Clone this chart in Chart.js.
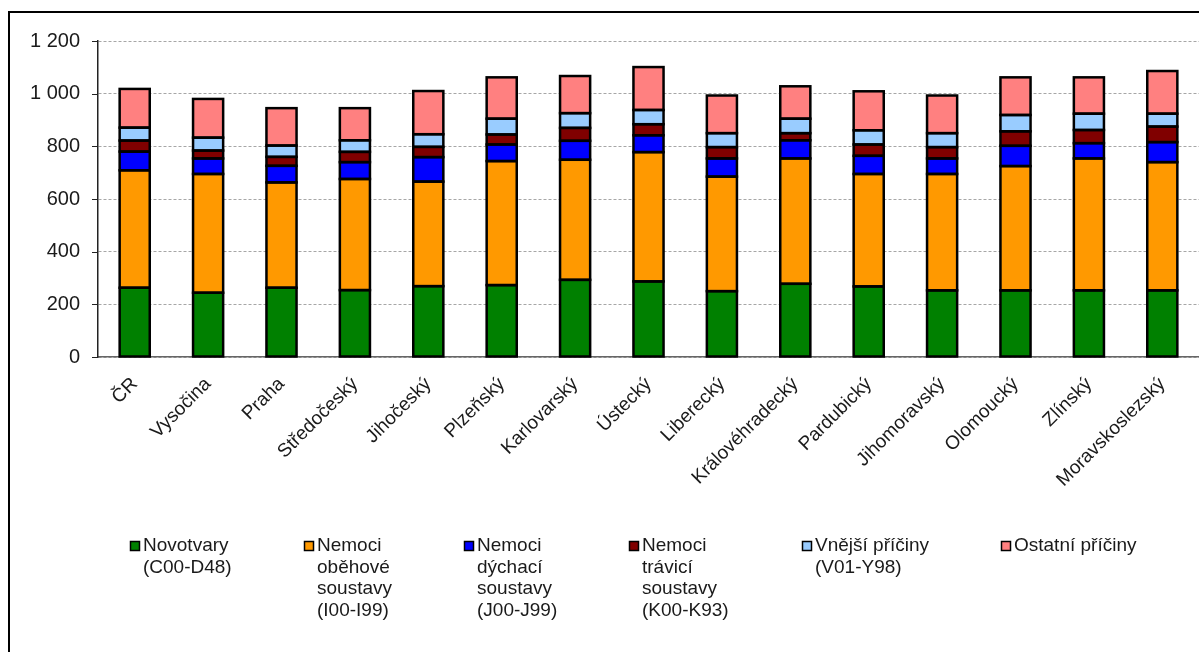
<!DOCTYPE html>
<html>
<head>
<meta charset="utf-8">
<script src="https://cdn.jsdelivr.net/npm/chart.js@4/dist/chart.umd.min.js"></script>
<style>
  html, body { margin: 0; padding: 0; background: #fff; }
  #wrap { position: relative; width: 1199px; height: 652px; }
</style>
</head>
<body>
<div id="wrap"><canvas id="c" width="1199" height="652"></canvas></div>
<script>
const categories = ['ČR', 'Vysočina', 'Praha', 'Středočeský', 'Jihočeský', 'Plzeňský', 'Karlovarský', 'Ústecký', 'Liberecký', 'Královéhradecký', 'Pardubický', 'Jihomoravský', 'Olomoucký', 'Zlínský', 'Moravskoslezský'];

const novotvary   = [263, 244, 263, 254, 269, 273, 293, 287, 250, 278, 268, 253, 253, 253, 253];
const obehove     = [446, 451, 400, 422, 397, 471, 456, 491, 435, 476, 427, 442, 472, 501, 487];
const dychaci     = [71, 59, 63, 64, 93, 63, 72, 64, 69, 69, 69, 59, 77, 58, 76];
const travici     = [42, 30, 34, 39, 39, 38, 49, 42, 43, 27, 43, 43, 55, 50, 59];
const vnejsi      = [49, 49, 43, 44, 48, 60, 56, 54, 53, 55, 54, 53, 62, 62, 49];
const ostatni     = [147, 147, 142, 122, 164, 157, 141, 163, 143, 123, 148, 143, 143, 138, 162];

const seriesNames = [
  ['Novotvary', '(C00-D48)'],
  ['Nemoci', 'oběhové', 'soustavy', '(I00-I99)'],
  ['Nemoci', 'dýchací', 'soustavy', '(J00-J99)'],
  ['Nemoci', 'trávicí', 'soustavy', '(K00-K93)'],
  ['Vnější příčiny', '(V01-Y98)'],
  ['Ostatní příčiny']
];
const seriesColors = ['#008000', '#FF9900', '#0000FF', '#800000', '#99CCFF', '#FF8080'];
const yTickLabels = ['0', '200', '400', '600', '800', '1 000', '1 200'];

const seriesValues = [novotvary, obehove, dychaci, travici, vnejsi, ostatni];

const FONT = "'Liberation Sans', Arial, sans-serif";
const TEXT = '#1a1a1a';

const barOutlines = {
  id: 'barOutlines',
  afterDatasetsDraw(chart) {
    const ctx = chart.ctx;
    ctx.save();
    ctx.strokeStyle = '#000';
    ctx.lineWidth = 2.5;
    ctx.lineJoin = 'miter';
    chart.data.datasets.forEach((ds, i) => {
      const meta = chart.getDatasetMeta(i);
      meta.data.forEach(el => {
        const p = el.getProps(['x', 'y', 'base', 'width'], true);
        const left = p.x - p.width / 2;
        const top = Math.min(p.y, p.base);
        const h = Math.abs(p.base - p.y);
        ctx.strokeRect(left, top, p.width, h);
      });
    });
    ctx.restore();
  }
};

const frameAndLegend = {
  id: 'frameAndLegend',
  afterDraw(chart) {
    const ctx = chart.ctx;
    ctx.save();
    // outer frame (top + left)
    ctx.strokeStyle = '#000';
    ctx.lineWidth = 2;
    ctx.beginPath();
    ctx.moveTo(9, 700);
    ctx.lineTo(9, 12);
    ctx.lineTo(1250, 12);
    ctx.stroke();

    // y tick marks
    const ys = chart.scales.y;
    ctx.strokeStyle = '#222';
    ctx.lineWidth = 1;
    ys.ticks.forEach(t => {
      const py = Math.round(ys.getPixelForValue(t.value)) + 0.5;
      ctx.beginPath();
      ctx.moveTo(ys.right - 6, py);
      ctx.lineTo(ys.right, py);
      ctx.stroke();
    });

    // legend
    const boxX = [130, 304, 464, 629, 802, 1001];
    const firstY = 546;
    const lineH = 21.5;
    ctx.font = '19px ' + FONT;
    ctx.textBaseline = 'middle';
    ctx.textAlign = 'left';
    chart.data.datasets.forEach((ds, i) => {
      const bx = boxX[i];
      ctx.fillStyle = ds.backgroundColor;
      ctx.fillRect(bx, firstY - 5, 10, 10);
      ctx.strokeStyle = '#000';
      ctx.lineWidth = 1.5;
      ctx.strokeRect(bx + 0.5, firstY - 4.5, 9, 9);
      ctx.fillStyle = TEXT;
      seriesNames[i].forEach((line, j) => {
        ctx.fillText(line, bx + 13, firstY + j * lineH);
      });
    });
    ctx.restore();
  }
};

new Chart(document.getElementById('c'), {
  type: 'bar',
  data: {
    labels: categories,
    datasets: seriesValues.map((vals, i) => ({
      label: seriesNames[i].join(' '),
      data: vals,
      backgroundColor: seriesColors[i],
      borderWidth: 0,
      inflateAmount: 0,
      barPercentage: 0.41,
      categoryPercentage: 1.0
    }))
  },
  options: {
    responsive: false,
    animation: false,
    devicePixelRatio: 1,
    layout: { padding: { left: 0, top: 41, right: 0, bottom: 0 } },
    plugins: {
      legend: { display: false },
      tooltip: { enabled: false }
    },
    scales: {
      x: {
        stacked: true,
        grid: { display: false, drawTicks: false },
        border: { display: true, color: '#666', width: 1.5 },
        ticks: {
          autoSkip: false,
          minRotation: 45,
          maxRotation: 45,
          padding: 16,
          color: TEXT,
          font: { family: FONT, size: 19 }
        },
        afterFit(s) { s.height = 295; }
      },
      y: {
        stacked: true,
        min: 0,
        max: 1200,
        ticks: {
          stepSize: 200,
          padding: 18,
          color: TEXT,
          font: { family: FONT, size: 20 },
          callback: (v, idx) => yTickLabels[idx]
        },
        grid: { color: '#a6a6a6', lineWidth: 1, drawTicks: false },
        border: { display: true, color: '#222', width: 1.5, dash: [3, 2] },
        afterFit(s) { s.width = 98; }
      }
    }
  },
  plugins: [barOutlines, frameAndLegend]
});
</script>
</body>
</html>
